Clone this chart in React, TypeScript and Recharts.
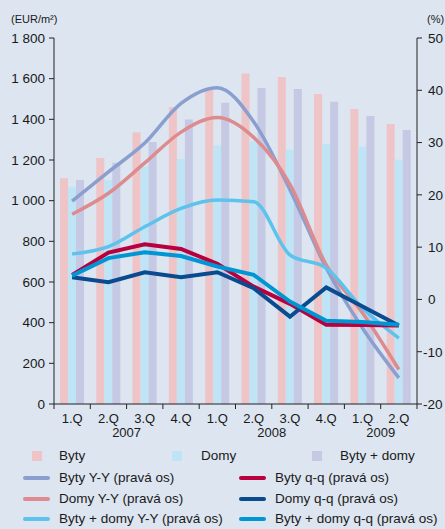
import React from "react";
import { ComposedChart, Bar, Line, XAxis, YAxis } from "recharts";

// Quarters and years on the category axis
const quarters = ["1.Q", "2.Q", "3.Q", "4.Q", "1.Q", "2.Q", "3.Q", "4.Q", "1.Q", "2.Q"];
// year label sits between this category and the next one
const yearLabels: Record<number, string> = { 1: "2007", 5: "2008", 8: "2009" };

// Prices, EUR/m2 (left axis)
const byty = [1110, 1210, 1336, 1461, 1555, 1625, 1608, 1525, 1451, 1377];
const domy = [1068, 1102, 1168, 1205, 1271, 1292, 1250, 1279, 1265, 1201];
const bytyDomy = [1102, 1186, 1289, 1399, 1482, 1554, 1549, 1486, 1417, 1348];

// Growth rates, % (right axis)
const bytyYY = [18.8, 24.4, 29.9, 37.5, 40.5, 34, 21, 6, -5.5, -15];
const domyYY = [16.3, 20.3, 26.1, 32, 34.8, 31, 22, 6.6, -2.6, -13.4];
const bytyDomyYY = [8.7, 10.1, 13.9, 17.4, 19, 18.7, 8.5, 6, -1.7, -7.4];
const bytyQQ = [4.7, 8.95, 10.55, 9.66, 6.8, 2.45, -0.85, -4.85, -4.9, -5];
const domyQQ = [4.25, 3.3, 5.2, 4.25, 5.2, 2.15, -3.3, 2.3, -1.35, -5];
const bytyDomyQQ = [4.56, 7.9, 9, 8.3, 6.3, 4.7, -0.4, -4.1, -4.3, -4.85];

const leftTicks = [0, 200, 400, 600, 800, 1000, 1200, 1400, 1600, 1800];
const rightTicks = [-20, -10, 0, 10, 20, 30, 40, 50];

const C = {
  bg: "#dce5f0",
  text: "#1a1a1a",
  byty: "#eec4c6",
  domy: "#bfe4f5",
  bytyDomy: "#c6c9e3",
  bytyYY: "#8a9fcf",
  domyYY: "#dd8b8e",
  bytyDomyYY: "#5ec3ec",
  bytyQQ: "#b8003f",
  domyQQ: "#0a4b8f",
  bytyDomyQQ: "#0096d4",
};

const FONT = '"Liberation Sans", Arial, sans-serif';

const data = quarters.map((q, i) => ({
  q: `${q}-${i}`,
  byty: byty[i],
  domy: domy[i],
  bytyDomy: bytyDomy[i],
  bytyYY: bytyYY[i],
  domyYY: domyYY[i],
  bytyDomyYY: bytyDomyYY[i],
  bytyQQ: bytyQQ[i],
  domyQQ: domyQQ[i],
  bytyDomyQQ: bytyDomyQQ[i],
}));

const boxLegend = [
  { name: "Byty", color: C.byty, left: 32, textLeft: 59 },
  { name: "Domy", color: C.domy, left: 172, textLeft: 201 },
  { name: "Byty + domy", color: C.bytyDomy, left: 312, textLeft: 340 },
];

const lineLegend = [
  { name: "Byty Y-Y (pravá os)", color: C.bytyYY },
  { name: "Byty q-q (pravá os)", color: C.bytyQQ },
  { name: "Domy Y-Y (pravá os)", color: C.domyYY },
  { name: "Domy q-q (pravá os)", color: C.domyQQ },
  { name: "Byty + domy Y-Y (pravá os)", color: C.bytyDomyYY },
  { name: "Byty + domy q-q (pravá os)", color: C.bytyDomyQQ },
];

function fmtThousands(v: number) {
  if (v >= 1000) return `${Math.floor(v / 1000)} ${String(v % 1000).padStart(3, "0")}`;
  return String(v);
}

function QuarterTick(props: any) {
  const { x, y, payload, index } = props;
  const half = payload?.offset || 18.15;
  const i = payload?.index ?? index;
  const label = quarters[i];
  return (
    <g>
      <line x1={x - half} x2={x - half} y1={y} y2={y + 5} stroke="#222" strokeWidth={1} />
      {i === quarters.length - 1 && (
        <line x1={x + half} x2={x + half} y1={y} y2={y + 5} stroke="#222" strokeWidth={1} />
      )}
      <text x={x} y={y + 19} textAnchor="middle" fontSize={13} fill={C.text} fontFamily={FONT}>
        {label}
      </text>
      {yearLabels[i] && (
        <text x={x + half} y={y + 33} textAnchor="middle" fontSize={13} fill={C.text} fontFamily={FONT}>
          {yearLabels[i]}
        </text>
      )}
    </g>
  );
}

function RightTick(props: any) {
  const { x, y, payload } = props;
  const v = payload.value as number;
  return (
    <text x={v < 0 ? x - 5 : x} y={y} dy="0.355em" textAnchor="start" fontSize={13.5} fill={C.text} fontFamily={FONT}>
      {String(v)}
    </text>
  );
}

export default function App() {
  return (
    <div
      style={{
        position: "absolute",
        left: 0,
        top: 0,
        width: 445,
        height: 529,
        background: C.bg,
        fontFamily: FONT,
        color: C.text,
        overflow: "hidden",
      }}
    >
      <div style={{ position: "absolute", left: 11, top: 13, fontSize: 11 }}>(EUR/m²)</div>
      <div style={{ position: "absolute", left: 427, top: 13, fontSize: 11 }}>(%)</div>

      <ComposedChart
        width={445}
        height={440}
        data={data}
        margin={{ top: 38, right: 0, bottom: 0, left: 0 }}
        barGap={0}
        barSize={8}
      >
        <XAxis
          dataKey="q"
          height={36}
          stroke="#222"
          tickLine={false}
          tickSize={0}
          tickMargin={0}
          interval={0}
          tick={<QuarterTick />}
        />
        <YAxis
          yAxisId="left"
          width={54}
          domain={[0, 1800]}
          ticks={leftTicks}
          interval={0}
          stroke="#222"
          tickSize={5}
          tickMargin={4}
          tick={{ fontSize: 13.5, fill: C.text, fontFamily: FONT }}
          tickFormatter={fmtThousands}
        />
        <YAxis
          yAxisId="right"
          orientation="right"
          width={28}
          domain={[-20, 50]}
          ticks={rightTicks}
          interval={0}
          stroke="#222"
          tickSize={5}
          tickMargin={6}
          tick={<RightTick />}
        />

        <Bar yAxisId="left" dataKey="byty" fill={C.byty} isAnimationActive={false} />
        <Bar yAxisId="left" dataKey="domy" fill={C.domy} isAnimationActive={false} />
        <Bar yAxisId="left" dataKey="bytyDomy" fill={C.bytyDomy} isAnimationActive={false} />

        <Line yAxisId="right" type="monotone" dataKey="bytyYY" stroke={C.bytyYY} strokeWidth={3.5} dot={false} isAnimationActive={false} />
        <Line yAxisId="right" type="monotone" dataKey="domyYY" stroke={C.domyYY} strokeWidth={3.5} dot={false} isAnimationActive={false} />
        <Line yAxisId="right" type="monotone" dataKey="bytyDomyYY" stroke={C.bytyDomyYY} strokeWidth={3.5} dot={false} isAnimationActive={false} />
        <Line yAxisId="right" type="linear" dataKey="bytyQQ" stroke={C.bytyQQ} strokeWidth={4} dot={false} isAnimationActive={false} />
        <Line yAxisId="right" type="linear" dataKey="domyQQ" stroke={C.domyQQ} strokeWidth={4} dot={false} isAnimationActive={false} />
        <Line yAxisId="right" type="linear" dataKey="bytyDomyQQ" stroke={C.bytyDomyQQ} strokeWidth={4} dot={false} isAnimationActive={false} />
      </ComposedChart>

      {boxLegend.map((b) => (
        <React.Fragment key={b.name}>
          <div style={{ position: "absolute", left: b.left, top: 451, width: 10, height: 10, background: b.color }} />
          <div style={{ position: "absolute", left: b.textLeft, top: 447, fontSize: 13.5, lineHeight: "17px" }}>{b.name}</div>
        </React.Fragment>
      ))}
      {lineLegend.map((l, i) => {
        const col = i % 2;
        const row = Math.floor(i / 2);
        const cy = 478 + row * 20.7;
        const sw = col === 0 ? 23 : 239;
        const tx = col === 0 ? 59 : 275;
        return (
          <React.Fragment key={l.name}>
            <div
              style={{
                position: "absolute",
                left: sw,
                top: cy - 2,
                width: 27,
                height: 4,
                borderRadius: 2,
                background: l.color,
              }}
            />
            <div style={{ position: "absolute", left: tx, top: cy - 9, fontSize: 13.5, lineHeight: "17px", whiteSpace: "nowrap" }}>
              {l.name}
            </div>
          </React.Fragment>
        );
      })}
    </div>
  );
}
